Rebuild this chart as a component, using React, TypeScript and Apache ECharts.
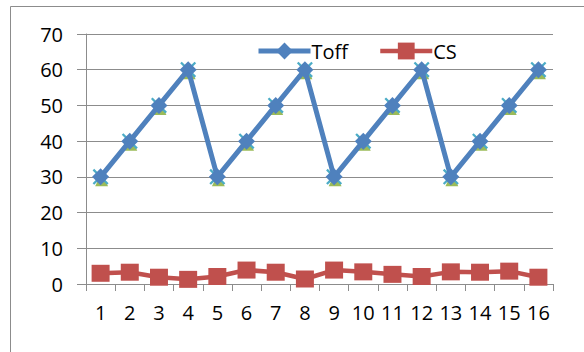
import React, { useEffect, useRef } from "react";
import * as echarts from "echarts";

const categories = ["1", "2", "3", "4", "5", "6", "7", "8", "9", "10", "11", "12", "13", "14", "15", "16"];
const toff = [30, 40, 50, 60, 30, 40, 50, 60, 30, 40, 50, 60, 30, 40, 50, 60];
const cs = [3.0, 3.3, 1.9, 1.3, 2.1, 3.9, 3.3, 1.4, 3.9, 3.4, 2.7, 2.1, 3.4, 3.3, 3.6, 1.9];
const yTicks = { min: 0, max: 70, interval: 10 };

const FONT = "'Open Sans', 'Noto Sans', sans-serif";
const X_SYMBOL = "path://M0,1L1,0L5,4L9,0L10,1L6,5L10,9L9,10L5,6L1,10L0,9L4,5Z";

export default function App() {
  const ref = useRef<HTMLDivElement>(null);
  useEffect(() => {
    if (!ref.current) return;
    const chart = echarts.init(ref.current, undefined, { renderer: "svg" });
    chart.setOption({
      animation: false,
      backgroundColor: "#ffffff",
      textStyle: { fontFamily: FONT },
      graphic: [
        {
          type: "rect",
          shape: { x: 10.5, y: 6.5, width: 700, height: 500 },
          style: { fill: "none", stroke: "#8c8c8c", lineWidth: 1 },
          silent: true,
        },
      ],
      grid: { left: 86, right: 31, top: 34, bottom: 68 },
      legend: {
        data: [
          { name: "Toff", lineStyle: { width: 5, color: "#4F81BD" } },
          { name: "CS", lineStyle: { width: 4.5, color: "#C0504D" } },
        ],
        left: 251,
        top: 36,
        itemWidth: 52,
        itemHeight: 21,
        itemGap: 30,
        textStyle: { fontSize: 20, color: "#000", fontFamily: FONT, padding: [0, 0, 0, -4] },
      },
      xAxis: {
        type: "category",
        data: categories,
        boundaryGap: true,
        axisLine: { lineStyle: { color: "#8c8c8c", width: 1 } },
        axisTick: { show: true, length: 7, lineStyle: { color: "#8c8c8c" } },
        axisLabel: { fontSize: 20, color: "#000", margin: 18, interval: 0, fontFamily: FONT },
        splitLine: { show: false },
      },
      yAxis: {
        type: "value",
        min: yTicks.min,
        max: yTicks.max,
        interval: yTicks.interval,
        axisLine: { show: true, lineStyle: { color: "#8c8c8c", width: 1 } },
        axisTick: { show: true, length: 9, lineStyle: { color: "#8c8c8c" } },
        axisLabel: { fontSize: 20, color: "#000", margin: 23, fontFamily: FONT },
        splitLine: { show: true, lineStyle: { color: "#8c8c8c", width: 1.2 } },
      },
      series: [
        {
          name: "hidden3",
          type: "line",
          data: toff,
          symbol: "triangle",
          symbolSize: 13,
          symbolOffset: [1, 3],
          showAllSymbol: true,
          lineStyle: { width: 0 },
          itemStyle: { color: "#9BBB59" },
          z: 1,
        },
        {
          name: "hidden4",
          type: "line",
          data: toff,
          symbol: X_SYMBOL,
          symbolSize: 16,
          showAllSymbol: true,
          lineStyle: { width: 0 },
          itemStyle: { color: "#4BACC6" },
          z: 1,
        },
        {
          name: "Toff",
          type: "line",
          data: toff,
          symbol: "diamond",
          symbolSize: 17,
          showAllSymbol: true,
          lineStyle: { width: 5, color: "#4F81BD" },
          itemStyle: { color: "#4F81BD" },
          z: 3,
        },
        {
          name: "CS",
          type: "line",
          data: cs,
          symbol: "rect",
          symbolSize: [18, 17],
          showAllSymbol: true,
          lineStyle: { width: 4.5, color: "#C0504D" },
          itemStyle: { color: "#C0504D" },
          z: 3,
        },
      ],
    });
    return () => chart.dispose();
  }, []);
  return (
    <div
      ref={ref}
      style={{ position: "fixed", left: 0, top: 0, width: 584, height: 352 }}
    />
  );
}
